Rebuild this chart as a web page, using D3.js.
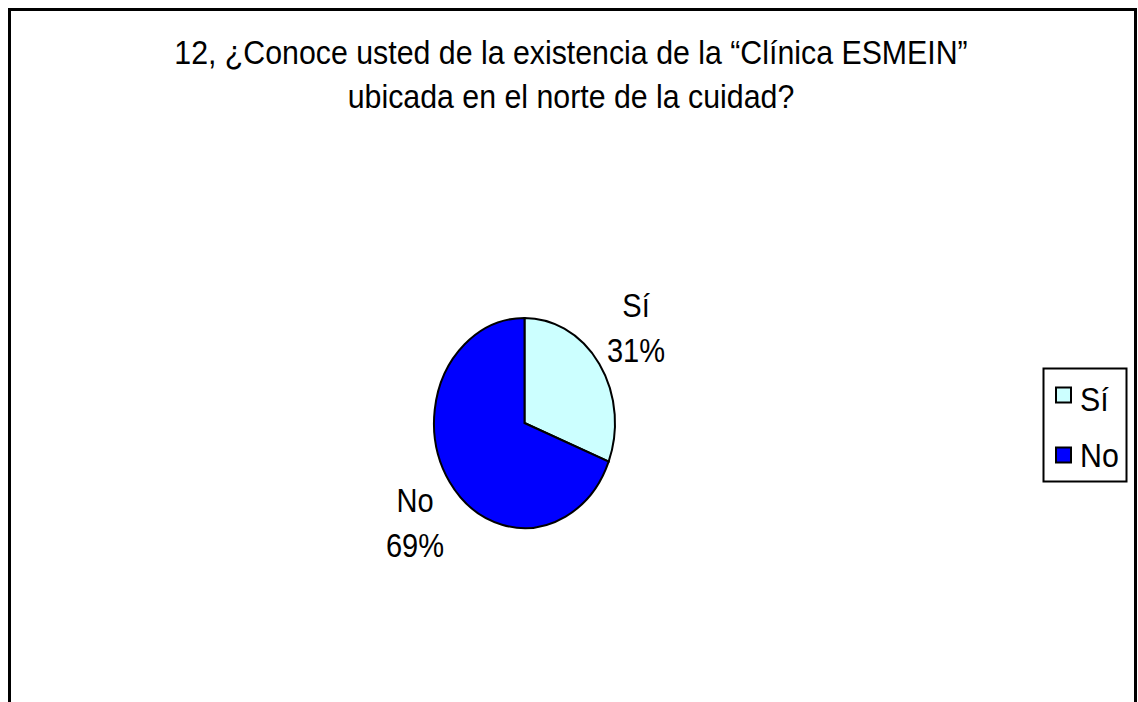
<!DOCTYPE html>
<html>
<head>
<meta charset="utf-8">
<script src="https://cdn.jsdelivr.net/npm/d3@7"></script>
<style>
  html, body { margin: 0; padding: 0; background: #fff; }
  svg { display: block; }
  text { font-family: "Liberation Sans", Arial, sans-serif; fill: #000; }
</style>
</head>
<body>
<svg id="chart" width="1138" height="702"></svg>
<script>
const titleLines = ["12, ¿Conoce usted de la existencia de la “Clínica ESMEIN”", "ubicada en el norte de la cuidad?"];
const categories = ["Sí", "No"];
const values = [31, 69];
const colors = ["#ccffff", "#0000ff"];

const svg = d3.select("#chart");

// outer chart border (bottom extends beyond view)
svg.append("rect")
  .attr("x", 9.5).attr("y", 9.5)
  .attr("width", 1126).attr("height", 740)
  .attr("fill", "#fff").attr("stroke", "#000").attr("stroke-width", 3);

function narrowText(sel, x, y, size, sx, anchor, txt) {
  return sel.append("text")
    .attr("transform", `translate(${x},${y}) scale(${sx},1)`)
    .attr("text-anchor", anchor)
    .attr("font-size", size)
    .text(txt);
}

// title
const tg = svg.append("g");
titleLines.forEach((line, i) => narrowText(tg, 571, 64 + i * 44, 33.5, 0.905, "middle", line));

// pie
const cx = 524.5, cy = 423, rx = 90.5, ry = 105;
const pie = d3.pie().sort(null).value(d => d)(values);
const arc = d3.arc().innerRadius(0).outerRadius(100);
const g = svg.append("g")
  .attr("transform", `translate(${cx},${cy}) scale(${rx/100},${ry/100})`);
g.selectAll("path").data(pie).join("path")
  .attr("d", arc)
  .attr("fill", (d, i) => colors[i])
  .attr("stroke", "#000")
  .attr("stroke-width", 2)
  .attr("vector-effect", "non-scaling-stroke");

// data labels
const labelPos = [{x: 636, y: 317}, {x: 415, y: 512}];
const lbl = svg.append("g");
pie.forEach((d, i) => {
  narrowText(lbl, labelPos[i].x, labelPos[i].y, 33, 0.88, "middle", categories[i]);
  narrowText(lbl, labelPos[i].x, labelPos[i].y + 45, 33, 0.88, "middle",
    Math.round(d.data / d3.sum(values) * 100) + "%");
});

// legend
const leg = svg.append("g");
leg.append("rect")
  .attr("x", 1043.5).attr("y", 368.5)
  .attr("width", 83).attr("height", 113)
  .attr("fill", "#fff").attr("stroke", "#000").attr("stroke-width", 2);
categories.forEach((c, i) => {
  leg.append("rect")
    .attr("x", 1056).attr("y", 387.5 + i * 60)
    .attr("width", 15).attr("height", 15)
    .attr("fill", colors[i])
    .attr("stroke", "#000").attr("stroke-width", 2);
  narrowText(leg, 1080, 411 + i * 56, 33, 0.92, "start", c);
});
</script>
</body>
</html>
